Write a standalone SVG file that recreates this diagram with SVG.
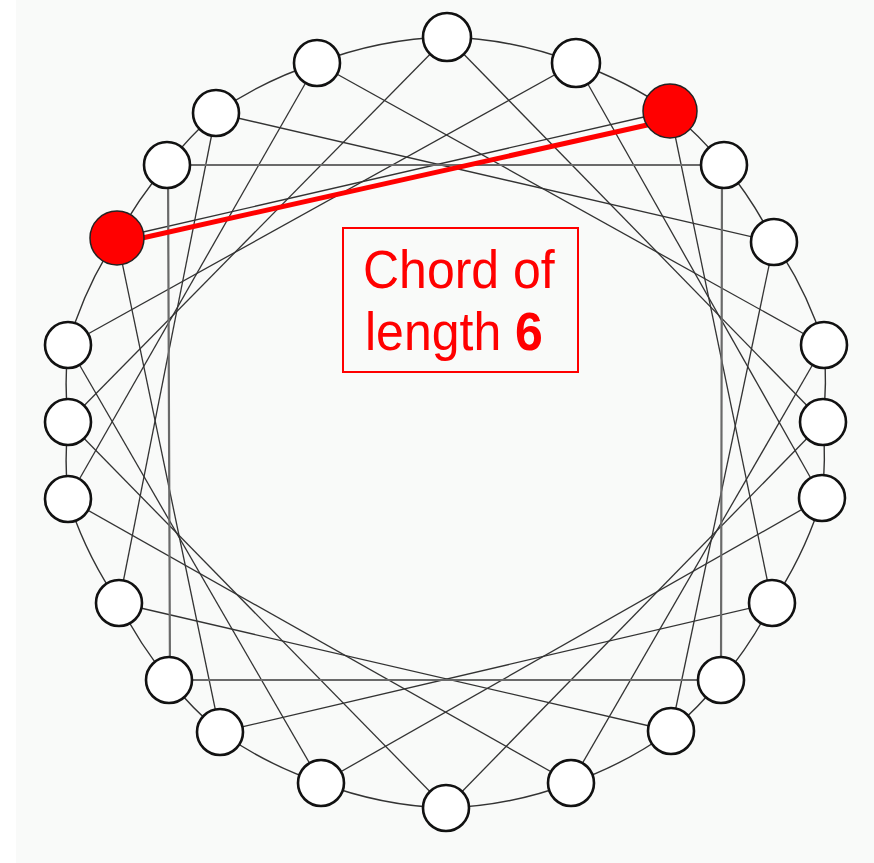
<svg xmlns="http://www.w3.org/2000/svg" width="874" height="863" viewBox="0 0 874 863">
<style>
.ring{fill:none;stroke:#333;stroke-width:1.4}
.chord{stroke:#333;stroke-width:1.3;fill:none}
.rect{stroke:#6a6a6a;stroke-width:2.2;fill:none}
.node{fill:#fff;stroke:#111;stroke-width:2.6}
.red{fill:#f00;stroke:#222;stroke-width:1.5}
.lbl{font-family:"Liberation Sans",Arial,sans-serif;font-size:50px;fill:#f00}
</style>
<rect x="0" y="0" width="874" height="863" fill="#fff"/>
<rect x="16" y="0" width="858" height="863" fill="#f9faf9"/>
<g id="connectors">
<path class="ring" d="M447,37 A390,390 0 0 1 576,63"/>
<path class="ring" d="M576,63 A390,390 0 0 1 670,111"/>
<path class="ring" d="M670,111 A390,390 0 0 1 724,165"/>
<path class="ring" d="M724,165 A390,390 0 0 1 774,242"/>
<path class="ring" d="M774,242 A390,390 0 0 1 824,345"/>
<path class="ring" d="M824,345 A390,390 0 0 1 823,422"/>
<path class="ring" d="M823,422 A390,390 0 0 1 822,498"/>
<path class="ring" d="M822,498 A390,390 0 0 1 772,603"/>
<path class="ring" d="M772,603 A390,390 0 0 1 721,680"/>
<path class="ring" d="M721,680 A390,390 0 0 1 671,731"/>
<path class="ring" d="M671,731 A390,390 0 0 1 571,783"/>
<path class="ring" d="M571,783 A390,390 0 0 1 446,808"/>
<path class="ring" d="M446,808 A390,390 0 0 1 321,783"/>
<path class="ring" d="M321,783 A390,390 0 0 1 220,732"/>
<path class="ring" d="M220,732 A390,390 0 0 1 169,680"/>
<path class="ring" d="M169,680 A390,390 0 0 1 119,603"/>
<path class="ring" d="M119,603 A390,390 0 0 1 68,499"/>
<path class="ring" d="M68,499 A390,390 0 0 1 68,422"/>
<path class="ring" d="M68,422 A390,390 0 0 1 68,345"/>
<path class="ring" d="M68,345 A390,390 0 0 1 117,238"/>
<path class="ring" d="M117,238 A390,390 0 0 1 167,165"/>
<path class="ring" d="M167,165 A390,390 0 0 1 216,113"/>
<path class="ring" d="M216,113 A390,390 0 0 1 317,63"/>
<path class="ring" d="M317,63 A390,390 0 0 1 447,37"/>
<line class="chord" x1="447" y1="37" x2="823" y2="422"/>
<line class="chord" x1="576" y1="63" x2="822" y2="498"/>
<line class="chord" x1="670" y1="111" x2="772" y2="603"/>
<line class="chord" x1="774" y1="242" x2="671" y2="731"/>
<line class="chord" x1="824" y1="345" x2="571" y2="783"/>
<line class="chord" x1="823" y1="422" x2="446" y2="808"/>
<line class="chord" x1="822" y1="498" x2="321" y2="783"/>
<line class="chord" x1="772" y1="603" x2="220" y2="732"/>
<line class="chord" x1="671" y1="731" x2="119" y2="603"/>
<line class="chord" x1="571" y1="783" x2="68" y2="499"/>
<line class="chord" x1="446" y1="808" x2="68" y2="422"/>
<line class="chord" x1="321" y1="783" x2="68" y2="345"/>
<line class="chord" x1="220" y1="732" x2="117" y2="238"/>
<line class="chord" x1="119" y1="603" x2="216" y2="113"/>
<line class="chord" x1="68" y1="499" x2="317" y2="63"/>
<line class="chord" x1="68" y1="422" x2="447" y2="37"/>
<line class="chord" x1="68" y1="345" x2="576" y2="63"/>
<line class="chord" x1="117" y1="238" x2="670" y2="111"/>
<line class="chord" x1="216" y1="113" x2="774" y2="242"/>
<line class="chord" x1="317" y1="63" x2="824" y2="345"/>
<path class="rect" d="M167,165 L724,165 M722,165 L721,680 M721,680 L169,680 M170,680 L168,165"/>
<line x1="120" y1="243" x2="665" y2="121" stroke="#f00" stroke-width="5"/>
</g>
<g id="n0"><circle class="node" cx="447" cy="37" r="24"/></g>
<g id="n1"><circle class="node" cx="576" cy="63" r="24"/></g>
<g id="n2"><circle class="red" cx="670" cy="111" r="27"/></g>
<g id="n3"><circle class="node" cx="724" cy="165" r="23"/></g>
<g id="n4"><circle class="node" cx="774" cy="242" r="23"/></g>
<g id="n5"><circle class="node" cx="824" cy="345" r="23"/></g>
<g id="n6"><circle class="node" cx="823" cy="422" r="23"/></g>
<g id="n7"><circle class="node" cx="822" cy="498" r="23"/></g>
<g id="n8"><circle class="node" cx="772" cy="603" r="23"/></g>
<g id="n9"><circle class="node" cx="721" cy="680" r="23"/></g>
<g id="n10"><circle class="node" cx="671" cy="731" r="23"/></g>
<g id="n11"><circle class="node" cx="571" cy="783" r="23"/></g>
<g id="n12"><circle class="node" cx="446" cy="808" r="23"/></g>
<g id="n13"><circle class="node" cx="321" cy="783" r="23"/></g>
<g id="n14"><circle class="node" cx="220" cy="732" r="23"/></g>
<g id="n15"><circle class="node" cx="169" cy="680" r="23"/></g>
<g id="n16"><circle class="node" cx="119" cy="603" r="23"/></g>
<g id="n17"><circle class="node" cx="68" cy="499" r="23"/></g>
<g id="n18"><circle class="node" cx="68" cy="422" r="23"/></g>
<g id="n19"><circle class="node" cx="68" cy="345" r="23"/></g>
<g id="n20"><circle class="red" cx="117" cy="238" r="27"/></g>
<g id="n21"><circle class="node" cx="167" cy="165" r="23"/></g>
<g id="n22"><circle class="node" cx="216" cy="113" r="23"/></g>
<g id="n23"><circle class="node" cx="317" cy="63" r="23"/></g>
<g id="label">
<rect x="343" y="228" width="235" height="144" fill="none" stroke="#f00" stroke-width="2"/>
<text class="lbl" transform="translate(363,288) scale(1,1.07)">Chord of</text>
<text class="lbl" transform="translate(365,350) scale(1,1.07)">length <tspan font-weight="bold">6</tspan></text>
</g>
</svg>
